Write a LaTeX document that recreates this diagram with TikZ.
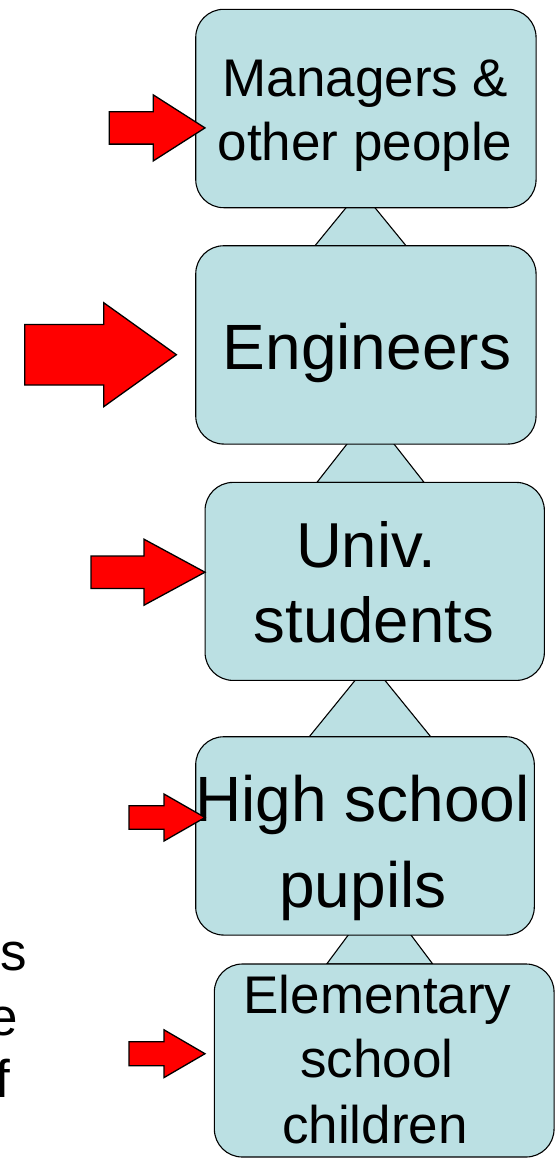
\documentclass[tikz,border=0pt]{standalone}
\usepackage{fontspec}
\setmainfont{Liberation Sans}
\definecolor{boxfill}{RGB}{187,224,227}
\definecolor{arrowred}{RGB}{255,0,0}
\tikzset{
  tier/.style={draw=black, line width=1.1pt, fill=boxfill, rounded corners=28pt,
               inner sep=0pt, outer sep=0pt},
  stem/.style={draw=black, line width=1.1pt, fill=boxfill, line join=miter},
  pointer/.style={draw=black, line width=1.3pt, fill=arrowred, line join=miter},
  lbl/.style={anchor=base, inner sep=0pt, outer sep=0pt, font=\fontsize{53}{60}\selectfont},
  lblbig/.style={lbl, font=\fontsize{64}{72}\selectfont},
  lbllarge/.style={lbl, font=\fontsize{63.5}{72}\selectfont},
}
% block arrow: shaft left x, head base x, tip x, centre y, shaft half height, head half height
\newcommand{\blockarrow}[6]{%
  \draw[pointer] (#1,#4-#5) -- (#2,#4-#5) -- (#2,#4-#6) -- (#3,#4)
    -- (#2,#4+#6) -- (#2,#4+#5) -- (#1,#4+#5) -- cycle;}
\begin{document}
\begin{tikzpicture}[x=1pt, y=-1pt]
\useasboundingbox (0,0) rectangle (556,1159);

% trapezoid stems joining the tiers (apex hidden behind the upper tier)
\draw[stem] (360.5,190) -- (315,245.7) -- (406,245.7) -- cycle;
\draw[stem] (370.5,414) -- (317,482.3) -- (424,482.3) -- cycle;
\draw[stem] (370,662) -- (309.3,736.7) -- (430.7,736.7) -- cycle;
\draw[stem] (379.5,893) -- (326.7,964) -- (432.7,964) -- cycle;

% tiers
\node[tier, minimum width=340.3pt, minimum height=198.4pt] (mgr) at (365.9,108.5) {};
\node[tier, minimum width=340.3pt, minimum height=198.3pt] (eng) at (365.9,344.9) {};
\node[tier, minimum width=339.3pt, minimum height=198pt]   (uni) at (374.7,581.4) {};
\node[tier, minimum width=338.6pt, minimum height=198.3pt] (hig) at (365,835.9) {};
\node[tier, minimum width=339.7pt, minimum height=193pt]   (ele) at (384.2,1060.5) {};

% tier labels
\node[lbl] (mgr1) at (365.5,96.7) {Managers \&};
\node[lbl] (mgr2) at (365,160) {other people};
\node[lblbig] (eng1) at (367,369) {Engineers};
\node[lbllarge] (uni1) at (366,567.3) {Univ.};
\node[lbllarge] (uni2) at (374,642.7) {students};
\node[lblbig] (hig1) at (362.5,821.7) {High school};
\node[lblbig] (hig2) at (363,907) {pupils};
\node[lbl] (ele1) at (377.5,1013.3) {Elementary};
\node[lbl] (ele2) at (377,1077.3) {school};
\node[lbl] (ele3) at (375,1143.3) {children};

% word endings at the left margin
\node[lbl, anchor=base west] (wa) at (0,970) {s};
\node[lbl, anchor=base west] (wb) at (-11,1035) {e};
\node[lbl, anchor=base west] (wc) at (-5,1097) {f};

% red pointers
\blockarrow{109.3}{153.3}{205}{127.9}{16.2}{33}
\blockarrow{24.8}{103.7}{176.4}{354.7}{30.3}{52}
\blockarrow{91}{144}{205}{572.2}{16.2}{33}
\blockarrow{129}{164}{205}{817.5}{11.8}{23.5}
\blockarrow{129}{164}{205}{1053.7}{12}{23.9}
\end{tikzpicture}
\end{document}
